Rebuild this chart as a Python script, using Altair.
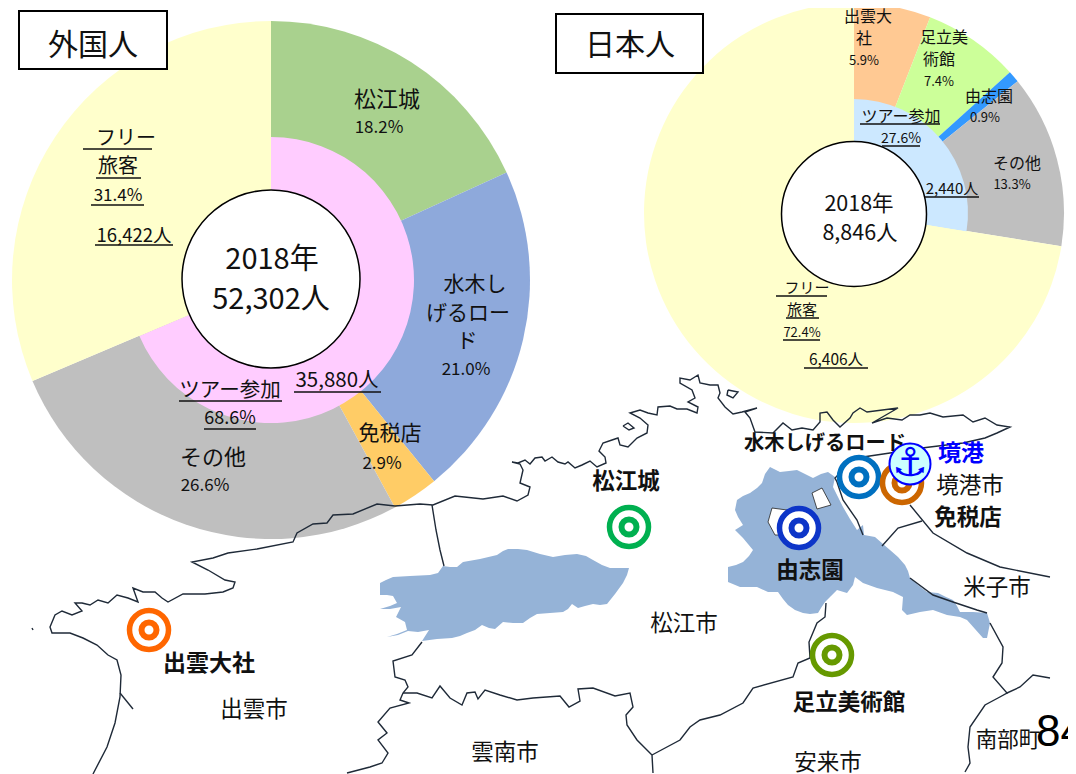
import altair as alt

W, H = 1060, 766
OX, OY = 8, 8
FONT = "Noto Sans CJK JP"

# ---- pie values ----
fg_outer_names = ["松江城", "水木しげるロード", "免税店", "その他", "フリー旅客"]
fg_outer_vals = [18.2, 21.0, 2.9, 26.6, 31.4]
fg_outer_cols = ["#A9D18E", "#8EA9DB", "#FFCC66", "#BFBFBF", "#FFFFCC"]
fg_inner_names = ["ツアー参加", "フリー旅客"]
fg_inner_vals = [68.6, 31.4]
fg_inner_cols = ["#FFCCFF", "#FFFFCC"]

jp_outer_names = ["出雲大社", "足立美術館", "由志園", "その他", "フリー旅客"]
jp_outer_vals = [5.9, 7.4, 0.9, 13.3, 72.4]
jp_outer_cols = ["#FFC993", "#CCFF99", "#3399FF", "#BFBFBF", "#FFFFCC"]
jp_inner_names = ["ツアー参加", "フリー旅客"]
jp_inner_vals = [27.6, 72.4]
jp_inner_cols = ["#CCE8FF", "#FFFFCC"]

# ---- labels: text, x, y, size ----
plain_labels = [
    ("外国人", 93, 44, 30), ("日本人", 630, 44, 30),
    ("松江城", 387, 98, 22), ("18.2%", 379, 126, 17),
    ("水木し", 475, 283, 21), ("げるロー", 468, 312, 21), ("ド", 467, 340, 21), ("21.0%", 466, 368, 17),
    ("免税店", 390, 432, 21), ("2.9%", 382, 462, 17),
    ("その他", 213, 456, 22), ("26.6%", 205, 484, 17),
    ("ツアー参加", 230, 389, 20.5), ("68.6%", 230, 417, 18), ("35,880人", 337, 379, 20.5),
    ("2018年", 272, 258, 29), ("52,302人", 271, 298, 29),
    ("フリー", 126, 137, 20), ("旅客", 118, 165, 20), ("31.4%", 118, 194, 17), ("16,422人", 134, 234, 18.5),
    ("出雲大", 868, 15, 16), ("社", 864, 37, 16), ("5.9%", 864, 59, 13),
    ("足立美", 944, 36, 16), ("術館", 939, 58, 16), ("7.4%", 939, 80, 13),
    ("由志園", 989, 95, 16), ("0.9%", 985, 116, 13),
    ("その他", 1017, 162, 16), ("13.3%", 1012, 183, 13),
    ("ツアー参加", 901, 115, 16), ("27.6%", 901, 137, 14), ("2,440人", 952, 187, 15),
    ("2018年", 859, 203, 21.5), ("8,846人", 860, 232, 21.5),
    ("フリー", 807, 286, 15), ("旅客", 802, 308, 15), ("72.4%", 802, 331, 13), ("6,406人", 836, 358, 15.5),
    ("境港市", 970, 484, 22.5), ("出雲市", 254, 708, 22.5), ("雲南市", 505, 751, 22.5), ("松江市", 684, 622, 22.5),
    ("米子市", 997, 586, 22.5), ("安来市", 828, 761, 22.5), ("南部町", 1008, 739, 21.5),
]
bold_labels = [
    ("水木しげるロード", 825, 442, 20.3), ("免税店", 968, 516, 22.5), ("由志園", 810, 569, 22.5),
    ("松江城", 626, 480, 22.5), ("足立美術館", 849, 701, 22.5), ("出雲大社", 209, 662, 23),
]
port_label = [("境港", 961, 452, 23)]
page_label = [("84", 1036, 733, 44)]

# ---- underlines: x0, x1, y ----
underlines = [
    (179, 282, 401), (204, 256, 429), (294, 381, 392),
    (83, 152, 149), (96, 141, 178), (91, 144, 205), (95, 173, 245),
    (860, 940, 124), (882, 920, 146), (925, 979, 197),
    (776, 827, 296), (786, 819, 318), (783, 820, 340), (804, 868, 368),
]

# ---- title boxes ----
boxes = [(19, 167, 11, 69), (556, 703, 14, 73)]

# ---- bullseye markers ----
spot_names = ["出雲大社", "松江城", "水木しげるロード", "免税店", "由志園", "足立美術館"]
spot_x = [149, 629, 859, 902, 799, 832]
spot_y = [630, 527, 477, 483, 528, 655]
spot_col = ["#FF6600", "#00B050", "#0070C0", "#CC6600", "#0D35C8", "#669900"]

# ---- map geometry ----
lake_shinji = [(380,583),(386,580),(393,577),(410,576),(430,575),(438,573),(443,566),(450,567),(457,567),(463,562),(480,559),(497,555),(503,551),(508,549),(518,549),(527,550),(540,554),(553,557),(565,555),(577,554),(586,556),(593,560),(602,565),(610,568),(620,568),(629,568),(627,575),(623,583),(615,594),(607,604),(600,605),(593,604),(585,606),(578,608),(572,604),(568,609),(563,612),(550,613),(537,614),(530,618),(523,623),(513,623),(503,622),(495,629),(489,628),(482,625),(475,630),(467,633),(460,636),(452,638),(437,639),(422,641),(429,630),(418,632),(408,631),(398,635),(387,637),(397,634),(407,630),(405,622),(396,617),(401,607),(390,609),(380,609),(390,606),(397,603),(393,596),(387,595),(380,595),(380,589),(380,583)]
lake_nakaumi = [(770,467),(780,472),(789,471),(797,470),(805,474),(813,478),(821,474),(828,472),(835,477),(833,487),(838,497),(843,507),(850,519),(857,530),(863,525),(864,535),(875,537),(883,544),(890,550),(898,557),(905,565),(908,571),(910,578),(918,585),(927,592),(938,593),(946,597),(953,600),(957,606),(960,612),(973,612),(987,613),(990,623),(987,638),(983,638),(975,629),(967,620),(960,617),(947,615),(933,610),(920,612),(907,615),(902,610),(903,597),(893,592),(877,588),(863,583),(855,577),(853,585),(847,593),(837,590),(831,596),(825,602),(821,608),(818,613),(810,614),(803,613),(795,610),(788,605),(783,599),(778,592),(768,592),(757,587),(748,587),(740,587),(728,582),(728,567),(736,565),(743,562),(749,556),(753,550),(748,544),(743,538),(735,530),(743,525),(738,517),(735,510),(737,500),(743,496),(750,493),(757,488),(762,483),(765,474),(770,467)]
island_a = [(772,508),(787,510),(790,535),(775,535),(768,522),(772,508)]
island_b = [(812,493),(822,488),(831,505),(817,509),(812,493)]

coast = [(93,774),(107,747),(115,723),(120,697),(121,675),(117,660),(108,655),(97,645),(83,638),(70,633),(52,633),(50,627),(55,615),(62,611),(72,615),(82,611),(75,603),(82,603),(90,605),(98,600),(108,603),(117,595),(128,598),(138,602),(133,588),(143,592),(155,592),(162,598),(168,602),(183,594),(205,594),(223,592),(233,588),(235,582),(225,580),(208,570),(192,562),(213,558),(228,553),(257,549),(293,542),(297,533),(313,524),(327,523),(333,515),(353,514),(377,504),(395,506),(420,504),(433,505),(455,496),(483,499),(503,496),(517,501),(528,495),(530,487),(520,483),(523,470),(520,464),(512,462),(518,463),(525,460),(530,464),(535,458),(542,457),(545,461),(552,457),(558,462),(565,464),(568,462),(575,468),(582,465),(590,461),(597,467),(606,463),(605,457),(599,451),(603,443),(612,440),(618,438),(620,445),(628,447),(637,438),(647,433),(648,425),(640,418),(630,413),(640,410),(648,413),(657,415),(658,407),(670,406),(677,409),(687,409),(697,413),(698,407),(688,402),(695,398),(692,390),(680,383),(680,378),(690,380),(698,375),(700,383),(710,385),(718,385),(720,393),(718,398),(725,407),(733,414),(742,412),(757,408),(745,412),(750,418),(755,432),(773,433),(783,423),(792,430),(802,428),(813,430),(820,422),(820,413),(827,412),(833,420),(840,427),(850,418),(853,413),(860,408),(867,412),(898,408),(872,423),(887,418),(902,420),(910,415),(920,415),(930,413),(943,417),(963,415),(973,422),(985,418),(997,425),(1010,427),(997,433),(985,438),(963,443),(930,447),(922,448),(890,453),(863,457),(850,462),(835,478),(837,482),(843,500),(857,520),(863,535)]
isle_a = [(728,390),(738,392),(733,398),(727,395),(728,390)]
isle_b = [(623,426),(629,430),(634,428),(628,423),(623,426)]
border_a = [(432,505),(436,530),(440,550),(444,566)]
border_b = [(422,642),(412,655),(393,661),(395,677),(405,680),(408,687),(403,693),(400,700),(409,703),(390,708),(378,722),(387,733),(378,740),(388,753),(382,763),(370,767),(347,773)]
border_c = [(403,693),(417,693),(432,698),(440,686),(450,698),(462,705),(467,693),(475,692),(478,699),(485,690),(500,695),(517,700),(533,698),(560,696),(569,707),(580,701),(578,689),(593,688),(615,696),(630,693),(633,707),(626,715),(627,725),(637,740),(652,755),(653,773)]
border_d = [(652,755),(680,740),(690,727),(700,720),(720,715),(743,703),(753,688),(793,677),(798,663),(810,658),(809,642),(817,623),(825,617),(826,603)]
border_e = [(990,623),(1003,647),(1002,663),(993,677),(1007,693),(998,698),(985,705),(970,727),(968,747),(970,763),(965,772)]
border_f = [(1007,693),(1020,687),(1033,675),(1050,678)]
shore_a = [(910,505),(933,533),(967,553),(1000,567),(1050,577)]
border_g = [(882,546),(898,528),(922,521)]
shore_b = [(910,578),(933,595),(953,602),(977,610),(987,613)]
spit = [(120,693),(133,709)]
islet = [(32,628),(33,630)]


def geo(kind, coords):
    return {"type": "Feature", "properties": {}, "geometry": {"type": kind, "coordinates": coords}}


def as_lists(pts):
    return [list(p) for p in pts]


lake_features = [geo("Polygon", [as_lists(lake_shinji)]), geo("Polygon", [as_lists(lake_nakaumi)])]
island_features = [geo("Polygon", [as_lists(island_a)]), geo("Polygon", [as_lists(island_b)])]
line_features = [geo("LineString", as_lists(l)) for l in [
    coast, isle_a, isle_b, border_a, border_b, border_c, border_d, border_e, border_f,
    shore_a, border_g, shore_b, spit, islet]]

proj = dict(type="identity", scale=1, translate=[-OX, -OY])

X = alt.X("x:Q", scale=alt.Scale(domain=[OX, OX + W], nice=False, zero=False), axis=None)
Y = alt.Y("y:Q", scale=alt.Scale(domain=[OY + H, OY], nice=False, zero=False), axis=None)


def ring(names, vals, cols, cx, cy, r):
    rows = [{"name": n, "v": v, "c": c, "k": i} for i, (n, v, c) in enumerate(zip(names, vals, cols))]
    return alt.Chart(alt.Data(values=rows)).mark_arc(radius=r, radius2=0, stroke=None).encode(
        theta=alt.Theta("v:Q", stack=True),
        order=alt.Order("k:Q"),
        color=alt.Color("c:N", scale=None, legend=None),
        x=alt.value(cx - OX),
        y=alt.value(cy - OY),
    )


def text_layer(rows, weight="normal", font=FONT, color="#111111", align="center", dy=2):
    data = [{"t": t, "x": x, "y": y, "s": s} for t, x, y, s in rows]
    return alt.Chart(alt.Data(values=data)).mark_text(
        font=font, fontWeight=weight, color=color, align=align, baseline="middle", dy=dy
    ).encode(x=X, y=Y, text="t:N", size=alt.Size("s:Q", scale=None, legend=None))


def disc(cx, cy, d):
    return alt.Chart(alt.Data(values=[{"x": cx, "y": cy}])).mark_point(
        shape="circle", size=d * d, fill="white", stroke="black", strokeWidth=1.5, opacity=1, fillOpacity=1
    ).encode(x=X, y=Y)


pies = [
    ring(fg_outer_names, fg_outer_vals, fg_outer_cols, 271, 280, 259),
    ring(fg_inner_names, fg_inner_vals, fg_inner_cols, 271, 280, 143),
    ring(jp_outer_names, jp_outer_vals, jp_outer_cols, 854, 213, 210),
    ring(jp_inner_names, jp_inner_vals, jp_inner_cols, 854, 213, 114),
    disc(271, 279, 178),
    disc(854, 214, 145),
]

lakes = alt.Chart(alt.Data(values=lake_features)).mark_geoshape(fill="#95B3D7", stroke=None).project(**proj)
islands = alt.Chart(alt.Data(values=island_features)).mark_geoshape(fill="white", stroke="#222222", strokeWidth=0.8).project(**proj)
lines = alt.Chart(alt.Data(values=line_features)).mark_geoshape(
    filled=False, fill="transparent", stroke="#1F2A38", strokeWidth=1.4).project(**proj)

spots = [{"x": x, "y": y, "c": c} for x, y, c in zip(spot_x, spot_y, spot_col)]
spot_base = alt.Chart(alt.Data(values=spots))
ring_big = spot_base.mark_point(shape="circle", size=39 * 39, filled=False, fill="white", strokeWidth=5.5, opacity=1, fillOpacity=1).encode(
    x=X, y=Y, stroke=alt.Stroke("c:N", scale=None, legend=None))
ring_small = spot_base.mark_point(shape="circle", size=15 * 15, filled=False, fill="white", strokeWidth=6, opacity=1, fillOpacity=1).encode(
    x=X, y=Y, stroke=alt.Stroke("c:N", scale=None, legend=None))

anchor_disc = alt.Chart(alt.Data(values=[{"x": 910, "y": 464}])).mark_point(
    shape="circle", size=41 * 41, fill="#CCFFFF", stroke="#0000FF", strokeWidth=2, opacity=1, fillOpacity=1
).encode(x=X, y=Y)
anchor_glyph = text_layer([("⚓", 910, 464, 40)], weight="bold", font="DejaVu Sans", color="#0000FF", dy=0)

box_rows = [{"x": a, "x2": b, "y": c, "y2": d} for a, b, c, d in boxes]
box_layer = alt.Chart(alt.Data(values=box_rows)).mark_rect(fill="white", stroke="black", strokeWidth=2).encode(
    x=X, x2="x2:Q", y=Y, y2="y2:Q")

ul_rows = [{"x": a, "x2": b, "y": c} for a, b, c in underlines]
ul_layer = alt.Chart(alt.Data(values=ul_rows)).mark_rule(color="#111111", strokeWidth=1.3).encode(
    x=X, x2="x2:Q", y=Y)

chart = alt.layer(
    *pies, lakes, islands, lines, box_layer,
    ring_big, ring_small, anchor_disc, anchor_glyph, ul_layer,
    text_layer(plain_labels),
    text_layer(bold_labels, weight="bold"),
    text_layer(port_label, weight="bold", color="#0000FF"),
    text_layer(page_label, font="Liberation Sans", color="#000000", align="left", dy=0),
).resolve_scale(theta="independent").properties(
    width=W, height=H, padding=0, autosize=alt.AutoSizeParams(type="none")
).configure_view(stroke=None)

chart.save("out.html", embed_options={"renderer": "svg", "actions": False})
